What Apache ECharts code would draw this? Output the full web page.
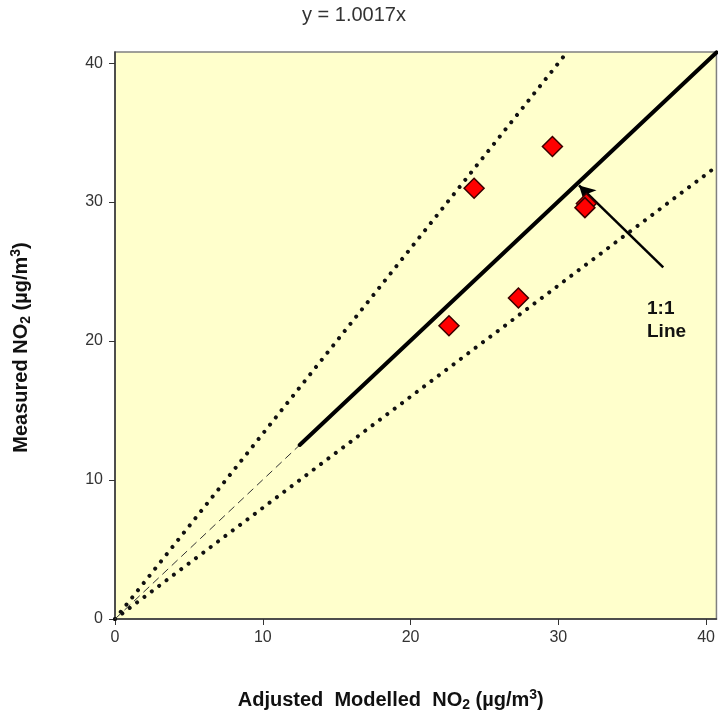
<!DOCTYPE html>
<html>
<head>
<meta charset="utf-8">
<script src="https://cdn.jsdelivr.net/npm/echarts@6/dist/echarts.min.js"></script>
<style>html,body{margin:0;padding:0;background:#fff;}#c{width:718px;height:717px;}</style>
</head>
<body>
<div id="c"></div>
<script>
// Data
const modelled = [22.6, 24.3, 27.3, 29.6, 31.9, 31.8];
const measured = [21.1, 31.0, 23.1, 34.0, 29.9, 29.6];
const fitSlope = 1.0017;
const fitStartX = 12.5;
const upperSlope = 4 / 3;
const lowerSlope = 0.8;
const axisMaxX = 40.7;
const axisMaxY = 40.8;
const tickValues = [0, 10, 20, 30, 40];
const arrowFrom = [37.1, 25.3];
const arrowTo = [31.4, 31.2];

const points = modelled.map((x, i) => [x, measured[i]]);
const lineThrough = (slope, x0, x1) => {
  const xe = Math.min(x1, axisMaxY / slope);
  return [[x0, slope * x0], [xe, slope * xe]];
};

const chart = echarts.init(document.getElementById('c'), null, {renderer: 'canvas'});
const font = 'Liberation Sans, Arial, sans-serif';
const nameRich = {
  b: {fontFamily: font, fontWeight: 'bold', fontSize: 20, color: '#111', lineHeight: 24},
  s: {fontFamily: font, fontWeight: 'bold', fontSize: 14, color: '#111', verticalAlign: 'bottom', lineHeight: 24, padding: [7, 0, 0, 0]},
  p: {fontFamily: font, fontWeight: 'bold', fontSize: 14, color: '#111', verticalAlign: 'top', lineHeight: 24, padding: [0, 0, 7, 0]}
};
chart.setOption({
  animation: false,
  backgroundColor: '#ffffff',
  grid: {left: 115, right: 1, top: 52, bottom: 97, show: true, backgroundColor: '#FFFFCC', borderColor: '#808080', borderWidth: 1.5},
  xAxis: {
    type: 'value', min: 0, max: axisMaxX, interval: 10,
    splitLine: {show: false},
    axisLine: {lineStyle: {color: '#333', width: 1.5}},
    axisTick: {length: 6, customValues: tickValues, lineStyle: {color: '#333'}},
    axisLabel: {customValues: tickValues, fontFamily: font, fontSize: 16, color: '#333', margin: 11},
    name: '{b|Adjusted  Modelled  NO}{s|2}{b| (µg/m}{p|3}{b|)}',
    nameLocation: 'middle', nameGap: 69,
    nameTextStyle: {rich: nameRich, padding: [0, 50, 0, 0]}
  },
  yAxis: {
    type: 'value', min: 0, max: axisMaxY, interval: 10,
    splitLine: {show: false},
    axisLine: {lineStyle: {color: '#333', width: 1.5}},
    axisTick: {length: 6, customValues: tickValues, lineStyle: {color: '#333'}},
    axisLabel: {customValues: tickValues, fontFamily: font, fontSize: 16, color: '#333', margin: 12},
    name: '{b|Measured NO}{s|2}{b| (µg/m}{p|3}{b|)}',
    nameLocation: 'middle', nameGap: 82, nameRotate: 90,
    nameTextStyle: {rich: nameRich, padding: [0, 24, 0, 0]}
  },
  graphic: [
    {type: 'text', left: 302, top: 5, style: {text: 'y = 1.0017x', font: '20px ' + font, fill: '#333'}},
    {type: 'text', left: 647, top: 297, style: {text: '1:1\nLine', font: 'bold 19px ' + font, fill: '#111', lineHeight: 23}}
  ],
  series: [
    {type: 'line', data: lineThrough(upperSlope, 0, axisMaxX), symbol: 'none', z: 2,
     lineStyle: {color: '#111', width: 4, type: [0.01, 9.2], cap: 'round'}},
    {type: 'line', data: lineThrough(lowerSlope, 0, axisMaxX), symbol: 'none', z: 2,
     lineStyle: {color: '#111', width: 4, type: [0.01, 9.2], cap: 'round'}},
    {type: 'line', data: lineThrough(fitSlope, 0, fitStartX), symbol: 'none', z: 2,
     lineStyle: {color: '#333', width: 1, type: [8, 5]}},
    {type: 'line', data: lineThrough(fitSlope, fitStartX, axisMaxX), symbol: 'none', z: 3,
     lineStyle: {color: '#000', width: 4, cap: 'round'}},
    {type: 'scatter', data: points, symbol: 'diamond', symbolSize: 20, z: 5,
     itemStyle: {color: '#FF0000', borderColor: '#3a0000', borderWidth: 1.5, opacity: 1},
     markLine: {silent: true, symbol: ['none', 'arrow'], symbolSize: [13, 16], label: {show: false},
       lineStyle: {color: '#000', width: 2.5, type: 'solid'},
       data: [[{coord: arrowFrom}, {coord: arrowTo}]]}}
  ]
});
</script>
</body>
</html>
